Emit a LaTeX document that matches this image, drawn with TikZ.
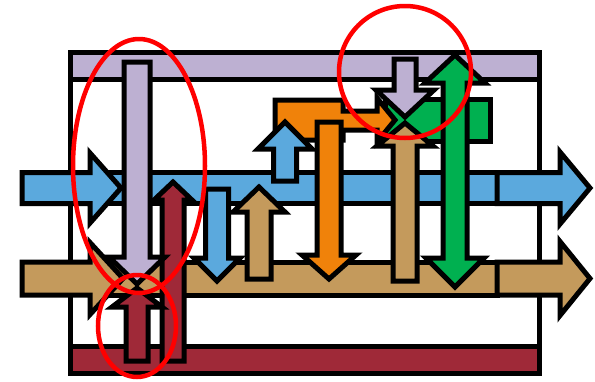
\documentclass[tikz,border=0pt]{standalone}
\definecolor{lav}{RGB}{189,176,210}
\definecolor{mar}{RGB}{159,41,56}
\definecolor{blu}{RGB}{91,169,221}
\definecolor{tan}{RGB}{196,154,92}
\definecolor{org}{RGB}{240,130,10}
\definecolor{grn}{RGB}{0,176,80}
\tikzset{blk/.style={draw=black, line width=5pt, line join=miter},
  ann/.style={draw=red, line width=4.5pt}}
% vertical block arrow: fill, cx, shaft half, head half, y base, y head, y tip
\newcommand{\vArrow}[7]{\draw[blk, fill=#1] ({#2-#3},#5) -- ({#2-#3},#6) -- ({#2-#4},#6) -- (#2,#7) -- ({#2+#4},#6) -- ({#2+#3},#6) -- ({#2+#3},#5) -- cycle;}
% horizontal block arrow: fill, cy, shaft half, head half, x base, x head, x tip
\newcommand{\hArrow}[7]{\draw[blk, fill=#1] (#5,{#2-#3}) -- (#6,{#2-#3}) -- (#6,{#2-#4}) -- (#7,#2) -- (#6,{#2+#4}) -- (#6,{#2+#3}) -- (#5,{#2+#3}) -- cycle;}
\begin{document}
\begin{tikzpicture}[x=1pt,y=-1pt]
\useasboundingbox (0,0) rectangle (595,381);
% frame and bars
\draw[blk, fill=white] (70,52) rectangle (539,373);
\draw[blk, fill=lav] (70,52) rectangle (539,79);
\draw[blk, fill=mar] (70,346) rectangle (539,373);
% green back block and orange bent arrow
\draw[blk, fill=grn] (385,99) rectangle (490,141);
\draw[blk, fill=org] (275,100) -- (343,100) -- (343,111) -- (377,111) -- (377,98) -- (395,120) -- (377,142) -- (377,130) -- (343,130) -- (343,140) -- (275,140) -- cycle;
% horizontal bands
\draw[blk, fill=blu] (90,172.5) rectangle (497,203);
\draw[blk, fill=tan] (90,262) rectangle (497,295);
\hArrow{blu}{188}{15.5}{35}{22}{90}{121}
\hArrow{tan}{278.5}{16.5}{36}{22}{90}{123}
\hArrow{blu}{188}{15.5}{36}{497}{560}{590}
\hArrow{tan}{278.5}{16.5}{37}{497}{560}{590}
% vertical arrows
\vArrow{blu}{285}{11.5}{27}{181}{149}{122}
\vArrow{org}{329}{12}{27}{122}{255}{279}
\vArrow{tan}{259}{12}{26}{279}{212}{187}
\vArrow{blu}{217}{11.5}{23}{189}{258}{281}
\vArrow{mar}{173}{11}{19}{361}{200}{182}
\vArrow{tan}{405}{12}{28}{281}{146}{123}
\vArrow{lav}{405}{11}{29}{59}{90}{117}
\draw[blk, fill=grn] (443,83) -- (425,83) -- (455,55) -- (485,83) -- (467,83) -- (467,258) -- (484,258) -- (455,287) -- (426,258) -- (443,258) -- cycle;
\vArrow{lav}{137}{13}{28}{62}{257}{284}
\vArrow{mar}{137}{11}{25}{361}{307}{288}
% annotations
\draw[ann] (139,166) ellipse [x radius=66, y radius=127];
\draw[ann] (137,326) ellipse [x radius=39, y radius=51];
\draw[ann] (405,72) ellipse [x radius=66, y radius=66];
\end{tikzpicture}
\end{document}
